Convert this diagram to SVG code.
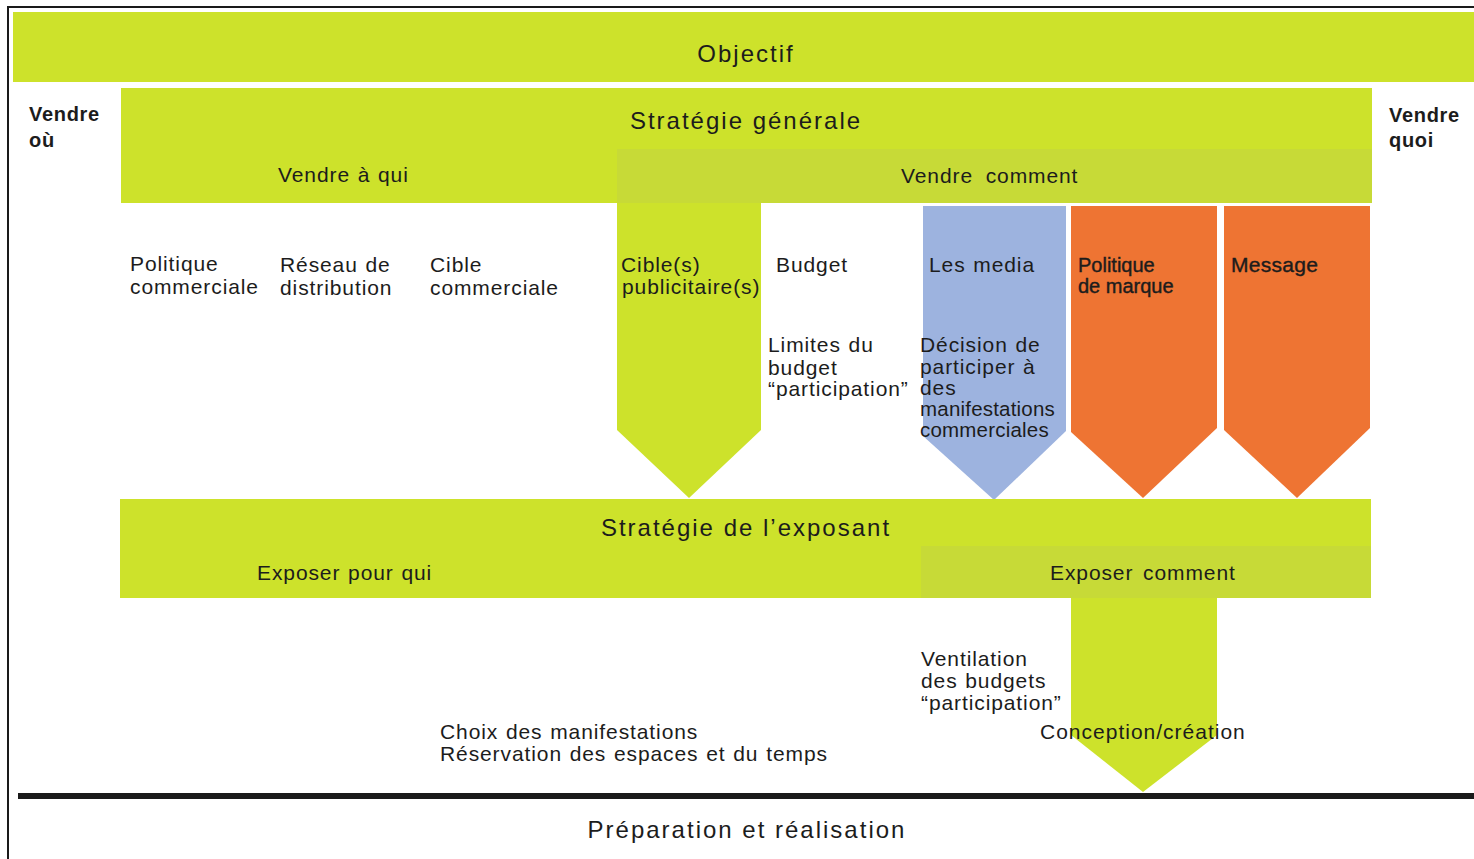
<svg xmlns="http://www.w3.org/2000/svg" width="1474" height="859" viewBox="0 0 1474 859">
<defs>
<style>
.lime{fill:#cde22b}
.tex{fill:#c7da37}
.blue{fill:#9db3df}
.orange{fill:#ee7433}
text{font-family:"Liberation Sans",Arial,sans-serif;fill:#1c1c1c}
.t24{font-size:24px;letter-spacing:2px}
.t20{font-size:21px;letter-spacing:0.9px;word-spacing:1px}
.b20{font-size:20px;font-weight:bold;letter-spacing:0.7px}
.n20{font-size:20px;letter-spacing:0px;stroke:#1c1c1c;stroke-width:0.4px}
</style>
</defs>
<rect x="0" y="0" width="1474" height="859" fill="#ffffff"/>
<g id="frame">
<line x1="8" y1="7" x2="1474" y2="7" stroke="#1a1a1a" stroke-width="2"/>
<line x1="8" y1="6" x2="8" y2="859" stroke="#1a1a1a" stroke-width="2"/>
<rect x="18" y="793" width="1456" height="6" fill="#1a1a1a"/>
</g>
<g id="objectif">
<rect class="lime" x="13" y="12" width="1461" height="70"/>
<text class="t24" x="746" y="62" text-anchor="middle">Objectif</text>
</g>
<g id="vendre-ou">
<text class="b20" x="29" y="121">Vendre</text>
<text class="b20" x="29" y="147">où</text>
</g>
<g id="vendre-quoi">
<text class="b20" x="1389" y="122">Vendre</text>
<text class="b20" x="1389" y="147">quoi</text>
</g>
<g id="strategie-generale">
<rect class="lime" x="121" y="88" width="1251" height="115"/>
<rect class="tex" x="617" y="149" width="755" height="54"/>
<text class="t24" x="746" y="129" text-anchor="middle">Stratégie générale</text>
<text class="t20" x="278" y="182">Vendre à qui</text>
<text class="t20" x="901" y="183" style="word-spacing:6px">Vendre comment</text>
</g>
<g id="connectors">
<polygon class="lime" points="617,203 761,203 761,430 689,498 617,430"/>
<polygon class="blue" points="923,206 1066,206 1066,431 994,500 923,436"/>
<polygon class="orange" points="1071,206 1217,206 1217,428 1143,498 1071,432"/>
<polygon class="orange" points="1224,206 1370,206 1370,428 1297,498 1224,430"/>
<polygon class="lime" points="1071,598 1217,598 1217,735 1143,792 1071,735"/>
</g>
<g id="politique-commerciale">
<text class="t20" x="130" y="271">Politique</text>
<text class="t20" x="130" y="294">commerciale</text>
</g>
<g id="reseau-distribution">
<text class="t20" x="280" y="272">Réseau de</text>
<text class="t20" x="280" y="295">distribution</text>
</g>
<g id="cible-commerciale">
<text class="t20" x="430" y="272">Cible</text>
<text class="t20" x="430" y="295">commerciale</text>
</g>
<g id="cible-publicitaire">
<text class="t20" x="621" y="272">Cible(s)</text>
<text class="t20" x="622" y="294">publicitaire(s)</text>
</g>
<g id="budget">
<text class="t20" x="776" y="272">Budget</text>
<text class="t20" x="768" y="352">Limites du</text>
<text class="t20" x="768" y="375">budget</text>
<text class="t20" x="768" y="396">“participation”</text>
</g>
<g id="les-media">
<text class="t20" x="929" y="272">Les media</text>
<text class="t20" x="920" y="352">Décision de</text>
<text class="t20" x="920" y="374">participer à</text>
<text class="t20" x="920" y="395">des</text>
<text class="t20" x="920" y="416" style="font-size:20.5px;letter-spacing:0.2px">manifestations</text>
<text class="t20" x="920" y="437" style="font-size:20.5px;letter-spacing:0.2px">commerciales</text>
</g>
<g id="politique-de-marque">
<text class="n20" x="1078" y="272">Politique</text>
<text class="n20" x="1078" y="293">de marque</text>
</g>
<g id="message">
<text class="n20" x="1231" y="272" style="font-size:21px;letter-spacing:0.3px">Message</text>
</g>
<g id="strategie-exposant">
<rect class="lime" x="120" y="499" width="1251" height="99"/>
<rect class="tex" x="921" y="546" width="450" height="52"/>
<text class="t24" x="746" y="536" text-anchor="middle">Stratégie de l’exposant</text>
<text class="t20" x="257" y="580">Exposer pour qui</text>
<text class="t20" x="1050" y="580" style="word-spacing:3px">Exposer comment</text>
</g>
<g id="ventilation">
<text class="t20" x="921" y="666">Ventilation</text>
<text class="t20" x="921" y="688">des budgets</text>
<text class="t20" x="921" y="710">“participation”</text>
</g>
<g id="conception">
<text class="t20" x="1040" y="739" style="letter-spacing:1px">Conception/création</text>
</g>
<g id="choix">
<text class="t20" x="440" y="739">Choix des manifestations</text>
<text class="t20" x="440" y="761">Réservation des espaces et du temps</text>
</g>
<g id="preparation">
<text class="t24" x="747" y="838" text-anchor="middle">Préparation et réalisation</text>
</g>
</svg>
